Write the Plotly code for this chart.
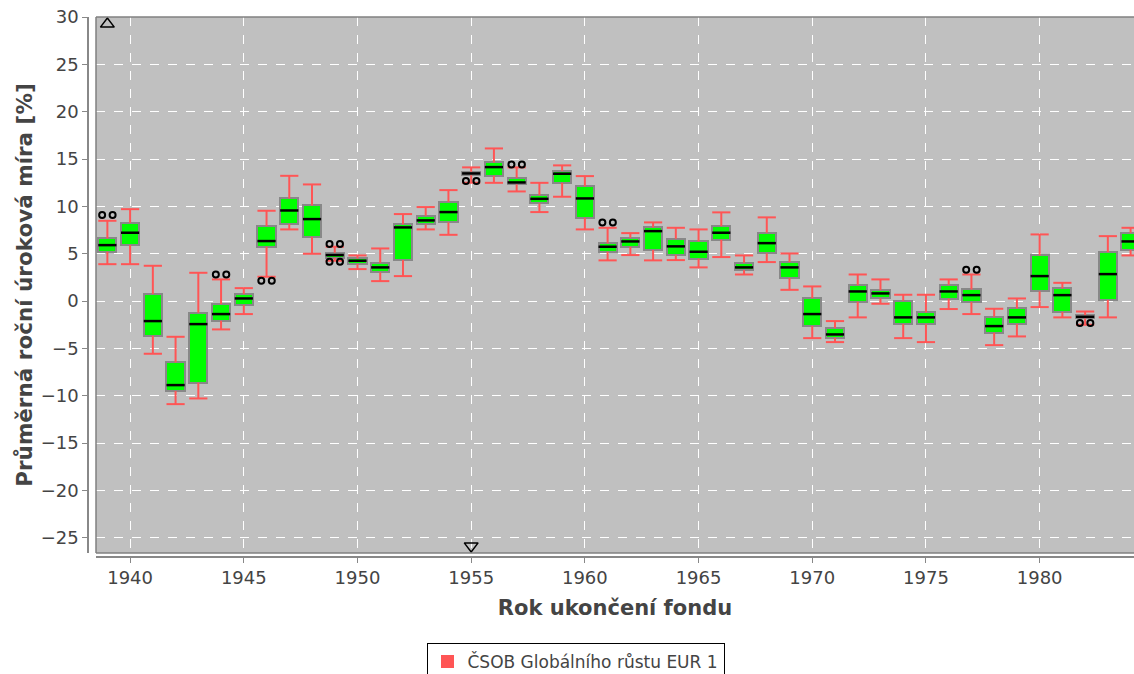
import plotly.graph_objects as go

years = list(range(1939, 1985))
lower = [3.9, 3.9, -5.56, -10.88, -10.28, -2.99, -1.37, 2.57, 7.57, 5.0,
         4.26, 3.38, 2.11, 2.64, 7.57, 7.0, 12.5, 12.49, 11.58, 9.4,
         11.02, 7.57, 4.3, 4.86, 4.3, 4.33, 3.56, 4.65, 2.81, 4.12,
         1.19, -3.91, -4.33, -1.72, -0.28, -3.91, -4.33, -0.84, -1.37, -4.65,
         -3.73, -0.63, -1.72, -2.5, -1.72, 4.82]
q1 = [5.21, 5.91, -3.66, -9.5, -8.62, -2.08, -0.42, 5.74, 8.13, 6.79,
      4.58, 3.9, 3.03, 4.33, 8.1, 8.31, 13.3, 13.23, 12.32, 10.31,
      12.49, 8.8, 5.21, 5.74, 5.39, 4.86, 4.47, 6.48, 3.27, 5.03,
      2.43, -2.64, -3.87, -0.07, 0.28, -2.43, -2.43, 0.25, -0.11, -3.35,
      -2.43, 1.02, -1.16, -1.83, 0.11, 5.39]
median = [5.91, 7.22, -2.11, -8.87, -2.43, -1.37, 0.28, 6.34, 9.57, 8.66,
          4.86, 4.26, 3.56, 7.78, 8.52, 9.4, 13.48, 14.15, 12.53, 10.8,
          13.45, 10.84, 5.74, 6.3, 7.39, 5.78, 5.21, 7.22, 3.56, 6.12,
          3.56, -1.37, -3.52, 1.02, 0.81, -1.72, -1.72, 1.02, 0.63, -2.64,
          -1.72, 2.64, 0.63, -1.66, 2.85, 6.3]
q3 = [6.62, 8.27, 0.74, -6.48, -1.23, -0.32, 0.74, 7.92, 10.84, 10.1,
      5.1, 4.5, 4.05, 8.1, 9.01, 10.49, 13.65, 14.64, 13.02, 11.19,
      13.76, 12.11, 6.09, 6.69, 7.78, 6.58, 6.3, 7.92, 4.05, 7.22,
      4.12, 0.32, -2.85, 1.69, 1.16, 0.04, -1.2, 1.72, 1.23, -1.66,
      -0.77, 4.82, 1.34, -1.48, 5.17, 7.22]
upper = [8.48, 9.71, 3.73, -3.77, 2.99, 2.29, 1.37, 9.54, 13.23, 12.32,
         5.74, 4.82, 5.56, 9.19, 9.93, 11.72, 14.12, 16.12, 14.12, 12.49,
         14.33, 13.2, 7.74, 7.18, 8.31, 7.74, 7.57, 9.37, 4.82, 8.84,
         5.03, 1.55, -2.11, 2.81, 2.29, 0.67, 0.67, 2.29, 2.81, -0.81,
         0.28, 7.04, 1.93, -1.1, 6.86, 7.74]

outlier_years = [1939, 1944, 1946, 1949, 1949, 1955, 1957, 1961, 1977, 1982]
outlier_values = [9.08, 2.81, 2.15, 6.02, 4.15, 12.68, 14.43, 8.31, 3.31, -2.3]

farout_high_years = [1939]
farout_low_years = [1955]

y_ticks = list(range(-25, 31, 5))
x_range = [1938.5, 1984.15]
y_range = [-26.6, 30]

series_name = "ČSOB Globálního růstu EUR 1"

BOX_HALF = 0.4
PAIR_OFF = 0.23

fig = go.Figure()

# whiskers
wx, wy = [], []
for x, lo, a, b, hi in zip(years, lower, q1, q3, upper):
    wx += [x, x, None, x - BOX_HALF, x + BOX_HALF, None,
           x, x, None, x - BOX_HALF, x + BOX_HALF, None]
    wy += [b, hi, None, hi, hi, None,
           a, lo, None, lo, lo, None]
fig.add_trace(go.Scatter(x=wx, y=wy, mode="lines",
                         line=dict(color="#FF5555", width=2),
                         showlegend=False, hoverinfo="skip"))

# boxes
fig.add_trace(go.Bar(x=years, base=q1, y=[b - a for a, b in zip(q1, q3)],
                     width=2 * BOX_HALF,
                     marker=dict(color="#00FF00",
                                 line=dict(color="#888888", width=2)),
                     showlegend=False, hoverinfo="skip"))

# medians
mx, my = [], []
for x, m in zip(years, median):
    mx += [x - BOX_HALF, x + BOX_HALF, None]
    my += [m, m, None]
fig.add_trace(go.Scatter(x=mx, y=my, mode="lines",
                         line=dict(color="black", width=2.5),
                         showlegend=False, hoverinfo="skip"))

# outliers (drawn as pairs)
ox, oy = [], []
for x, v in zip(outlier_years, outlier_values):
    ox += [x - PAIR_OFF, x + PAIR_OFF]
    oy += [v, v]
fig.add_trace(go.Scatter(x=ox, y=oy, mode="markers",
                         marker=dict(symbol="circle-open", size=6,
                                     color="black", line=dict(width=2)),
                         showlegend=False, hoverinfo="skip"))

# far-out indicators
fig.add_trace(go.Scatter(x=farout_high_years,
                         y=[y_range[1] - 0.75] * len(farout_high_years),
                         mode="markers",
                         marker=dict(symbol="triangle-up-open", size=12,
                                     color="black", line=dict(width=1.5)),
                         showlegend=False, hoverinfo="skip", cliponaxis=False))
fig.add_trace(go.Scatter(x=farout_low_years,
                         y=[y_range[0] + 0.75] * len(farout_low_years),
                         mode="markers",
                         marker=dict(symbol="triangle-down-open", size=12,
                                     color="black", line=dict(width=1.5)),
                         showlegend=False, hoverinfo="skip", cliponaxis=False))

# legend entry
fig.add_trace(go.Scatter(x=[None], y=[None], mode="markers", name=series_name,
                         marker=dict(symbol="square", size=13, color="#FF5555"),
                         showlegend=True))

W, H = 1134, 674
ml, mr, mt, mb = 88, 0, 17, 117
pw, ph = W - ml - mr, H - mt - mb

fig.update_layout(
    width=W, height=H,
    margin=dict(l=ml, r=mr, t=mt, b=mb, pad=0, autoexpand=False),
    paper_bgcolor="white",
    plot_bgcolor="#C0C0C0",
    font=dict(family="DejaVu Sans", size=18, color="#444444"),
    bargap=0,
    showlegend=True,
    legend=dict(orientation="h", x=(575.5 - ml) / pw, xanchor="center",
                y=-(643 - (H - mb)) / ph, yanchor="top",
                bordercolor="black", borderwidth=1, bgcolor="white",
                font=dict(family="DejaVu Sans", size=17, color="#444444"),
                itemwidth=30, tracegroupgap=0),
    xaxis=dict(range=x_range, domain=[8 / pw, 1], anchor="free", position=0,
               automargin=False,
               tick0=1940, dtick=5, ticks="outside", ticklen=5,
               tickcolor="#888888", showline=True, linecolor="#888888",
               linewidth=1.5, showgrid=True, gridcolor="white",
               griddash="dash", gridwidth=1, zeroline=False,
               tickfont=dict(size=18, color="#444444"),
               title=dict(text="<b>Rok ukončení fondu</b>", standoff=12,
                          font=dict(size=21, color="#444444"))),
    yaxis=dict(range=y_range, domain=[4 / ph, 1], anchor="free", position=0,
               automargin=False,
               tickvals=y_ticks, ticks="outside", ticklen=5,
               tickcolor="#888888", showline=True, linecolor="#888888",
               linewidth=1.5, showgrid=True, gridcolor="white",
               griddash="dash", gridwidth=1, zeroline=False,
               tickfont=dict(size=18, color="#444444"),
               title=dict(text="<b>Průměrná roční úroková míra [%]</b>",
                          standoff=1, font=dict(size=21.5, color="#444444"))),
)

# plot area border (left, top, bottom)
for x0, y0, x1, y1 in [(0, 0, 0, 1), (0, 1, 1, 1), (0, 0, 1, 0)]:
    fig.add_shape(type="line", xref="x domain", yref="y domain",
                  x0=x0, y0=y0, x1=x1, y1=y1,
                  line=dict(color="#808080", width=1.5))

fig.write_html(
    "out.html",
    config={"displayModeBar": False},
    post_script="document.body.style.margin='0';"
                "document.documentElement.style.overflow='hidden';",
)
